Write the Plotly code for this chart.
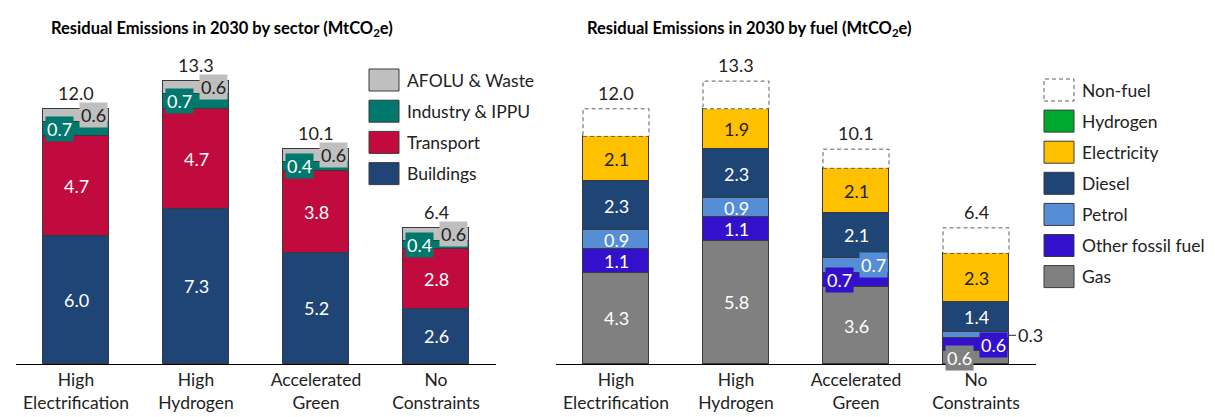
import plotly.graph_objects as go

# ---------------- data ----------------
scenarios = ["High<br>Electrification", "High<br>Hydrogen", "Accelerated<br>Green", "No<br>Constraints"]

# by sector (MtCO2e), stacked bottom -> top
buildings = [6.0, 7.3, 5.24, 2.6]
transport = [4.7, 4.7, 3.84, 2.8]
industry = [0.7, 0.7, 0.43, 0.4]
afolu = [0.6, 0.6, 0.59, 0.6]

# by fuel (MtCO2e), stacked bottom -> top
gas = [4.3, 5.8, 3.6, 0.6]
other_fossil = [1.1, 1.1, 0.7, 0.6]
petrol = [0.9, 0.9, 0.7, 0.3]
diesel = [2.3, 2.3, 2.1, 1.4]
hydrogen = [0.0, 0.0, 0.0, 0.0]
electricity = [2.1, 1.9, 2.1, 2.3]
non_fuel = [1.3, 1.3, 0.9, 1.2]

# ---------------- styling ----------------
W, H = 1215, 417
BASE = 356          # pixel row of the baseline (plot area top is pixel 0)
PX_PER_UNIT = 21.27
FONT = "Lato"
TXT = "#222222"
FS = 18             # value labels
FS_T = 17.5         # legend / tick labels
EDGE = "#3a3a3a"
DASH_COL = "#5f5f5f"

C = {
    "AFOLU & Waste": "#BFBFBF",
    "Industry & IPPU": "#00786D",
    "Transport": "#C10A3D",
    "Buildings": "#1F4577",
    "Hydrogen": "#00A82D",
    "Electricity": "#FFC000",
    "Diesel": "#1F4577",
    "Petrol": "#558ED5",
    "Other fossil fuel": "#3311CC",
    "Gas": "#808080",
}

sector_series = [
    ("Buildings", buildings, "white", ["in", "in", "in", "in"]),
    ("Transport", transport, "white", ["in", "in", "in", "in"]),
    ("Industry & IPPU", industry, "white", ["L", "L", "L", "L"]),
    ("AFOLU & Waste", afolu, TXT, ["R", "R", "R", "R"]),
]
fuel_series = [
    ("Gas", gas, "white", ["in", "in", "in", "L"]),
    ("Other fossil fuel", other_fossil, "white", ["in", "in", "L", "R"]),
    ("Petrol", petrol, "white", ["in", "in", "R", "out"]),
    ("Diesel", diesel, "white", ["in", "in", "in", "in"]),
    ("Hydrogen", hydrogen, "white", [None, None, None, None]),
    ("Electricity", electricity, TXT, ["in", "in", "in", "in"]),
]

BAR_W = 0.55
HALF_PX = 33
SHIFT = 17

fig = go.Figure()
annotations = []
shapes = []


def add_stack(series, xa, ya):
    base = [0.0] * len(scenarios)
    for name, vals, tcol, modes in series:
        fig.add_trace(go.Bar(
            x=list(range(len(scenarios))), y=vals, name=name, width=BAR_W,
            marker=dict(color=C[name], line=dict(color=EDGE, width=1)),
            xaxis=xa, yaxis=ya, showlegend=False, hoverinfo="skip",
        ))
        for i, (v, m) in enumerate(zip(vals, modes)):
            mid = base[i] + v / 2
            if m == "in":
                annotations.append(dict(
                    x=i, y=mid, xref=xa, yref=ya, text=f"{v:.1f}", showarrow=False,
                    font=dict(family=FONT, size=FS, color=tcol)))
            elif m in ("L", "R"):
                annotations.append(dict(
                    x=i, y=mid, xref=xa, yref=ya, text=f"{v:.1f}", showarrow=False,
                    xshift=-SHIFT if m == "L" else SHIFT, bgcolor=C[name], borderpad=1,
                    font=dict(family=FONT, size=FS, color=tcol)))
            elif m == "out":
                annotations.append(dict(
                    x=i, y=mid, xref=xa, yref=ya, text=f"{v:.1f}", showarrow=True,
                    arrowhead=0, arrowwidth=1, arrowcolor=TXT, ax=7, ay=0, standoff=0,
                    xshift=HALF_PX, xanchor="left",
                    font=dict(family=FONT, size=FS, color=TXT)))
            base[i] += v
    return base


sec_tot = add_stack(sector_series, "x", "y")
fuel_sum = add_stack(fuel_series, "x2", "y2")

# non-fuel: white bar with dashed outline
fig.add_trace(go.Bar(
    x=list(range(len(scenarios))), y=non_fuel, width=BAR_W, name="Non-fuel",
    marker=dict(color="white", line=dict(width=0)), xaxis="x2", yaxis="y2",
    showlegend=False, hoverinfo="skip"))
fuel_tot = []
for i, nf in enumerate(non_fuel):
    top = fuel_sum[i] + nf
    fuel_tot.append(top)
    shapes.append(dict(type="rect", xref="x2", yref="y2",
                       x0=i - BAR_W / 2, x1=i + BAR_W / 2, y0=fuel_sum[i], y1=top,
                       line=dict(color=DASH_COL, width=1, dash="4px,3px"), layer="above"))

for xa, ya, tots in (("x", "y", sec_tot), ("x2", "y2", fuel_tot)):
    for i, t in enumerate(tots):
        annotations.append(dict(x=i, y=t, xref=xa, yref=ya, text=f"{t:.1f}", showarrow=False,
                                yanchor="bottom", yshift=3,
                                font=dict(family=FONT, size=FS, color=TXT)))


def px(xp):
    return xp / W


def py(yp):
    return 1 - yp / BASE


# titles
for x0, t in ((41, "Residual Emissions in 2030 by sector (MtCO<sub>2</sub>e)"),
              (577, "Residual Emissions in 2030 by fuel (MtCO<sub>2</sub>e)")):
    annotations.append(dict(x=px(x0), y=py(21), xref="paper", yref="paper", text="<b>" + t + "</b>",
                            showarrow=False, xanchor="left", yanchor="middle",
                            font=dict(family=FONT, size=16.5, color="#000000")))

# legends
left_leg = ["AFOLU & Waste", "Industry & IPPU", "Transport", "Buildings"]
right_leg = ["Non-fuel", "Hydrogen", "Electricity", "Diesel", "Petrol", "Other fossil fuel", "Gas"]


def legend(names, xs, y0, step):
    for k, n in enumerate(names):
        yc = y0 + k * step
        if n == "Non-fuel":
            line = dict(color=DASH_COL, width=1, dash="4px,3px")
            fill = "white"
        else:
            line = dict(color=EDGE, width=1)
            fill = C[n]
        shapes.append(dict(type="rect", xref="paper", yref="paper",
                           x0=px(xs), x1=px(xs + 30), y0=py(yc + 11), y1=py(yc - 11),
                           fillcolor=fill, line=line))
        annotations.append(dict(x=px(xs + 36), y=py(yc), xref="paper", yref="paper", text=n,
                                showarrow=False, xanchor="left", yanchor="middle",
                                font=dict(family=FONT, size=FS_T, color=TXT)))


legend(left_leg, 361, 72, 31.2)
legend(right_leg, 1036, 82, 31.1)

yr = [0, BASE / PX_PER_UNIT]
axis_common = dict(type="linear", tickmode="array", tickvals=list(range(len(scenarios))),
                   ticktext=scenarios, range=[-0.5, len(scenarios) - 0.5],
                   showline=True, linecolor="#000000", linewidth=1, showgrid=False,
                   zeroline=False, ticks="", automargin=False,
                   tickfont=dict(family=FONT, size=FS_T, color=TXT))
fig.update_layout(
    width=W, height=H, barmode="stack", bargap=0,
    paper_bgcolor="white", plot_bgcolor="white",
    margin=dict(l=0, r=0, t=0, b=H - BASE, autoexpand=False),
    xaxis=dict(domain=[8 / W, 488 / W], anchor="y", **axis_common),
    xaxis2=dict(domain=[548 / W, 1028 / W], anchor="y2", **axis_common),
    yaxis=dict(range=yr, visible=False, anchor="x"),
    yaxis2=dict(range=yr, visible=False, anchor="x2"),
    annotations=annotations, shapes=shapes, showlegend=False,
)

fig.write_html("out.html")
